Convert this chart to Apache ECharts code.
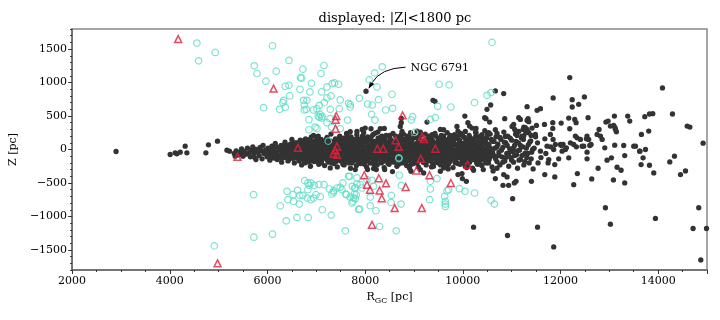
<!DOCTYPE html>
<html>
<head>
<meta charset="utf-8">
<script src="https://cdn.jsdelivr.net/npm/echarts@6.0.0/dist/echarts.min.js"></script>
<style>
  html, body { margin: 0; padding: 0; background: #fff; }
  #chart { width: 720px; height: 320px; }
</style>
</head>
<body>
<div id="chart"></div>
<script>
// tick labels
var xTicks = [2000, 4000, 6000, 8000, 10000, 12000, 14000];
var yTicks = [-1500, -1000, -500, 0, 500, 1000, 1500];

// open clusters, |Z| < 1800 pc  (R_GC, Z) in pc
// dense thin-disc band
var bandDots = [
  [5320,-60],[5360,-20],[5410,-80],[5450,-40],[5470,10],[5500,-100],
  [5520,-30],[5560,-70],[5590,20],[5620,-50],[5650,-110],[5680,-10],[5700,40],
  [5720,-60],[5740,-120],[5770,0],[5800,-40],[5830,-90],[5850,30],[5880,-20],[5890,-140],
  [5910,60],[5930,-60],[5960,-10],[5990,-110],[6010,20],[6030,-70],[6050,-160],[6070,-30],[6090,50],[6100,-120],
  [6120,0],[6140,-80],[6160,90],[6180,-40],[6200,-150],[6220,30],[6240,-100],[6260,-10],[6280,60],[6290,-190],[6300,-60],
  [6320,10],[6340,-120],[6360,110],[6380,-50],[6400,40],[6420,-170],[6440,-90],[6460,-10],[6470,80],[6490,-130],[6500,150],
  [6520,-40],[6530,30],[6550,-200],[6570,100],[6590,-110],[6600,0],[6620,-60],[6640,60],[6650,-150],[6670,140],[6690,-20],[6700,-230],
  [6710,80],[6730,-120],[6740,20],[6760,-70],[6780,160],[6790,-190],[6800,-10],[6820,110],[6840,-140],[6850,40],[6870,-60],[6880,-250],[6900,190],
  [6910,0],[6930,-100],[6940,70],[6960,-180],[6970,130],[6990,-40],[7000,30],[7020,-130],[7040,200],[7050,-220],[7060,-10],[7080,90],[7090,-80],[7100,150],
  [7110,-160],[7130,10],[7140,-60],[7160,120],[7170,-240],[7190,50],[7200,-120],[7220,180],[7230,-20],[7250,-190],[7260,80],[7280,-80],[7290,20],[7300,230],
  [7310,-140],[7330,110],[7340,-40],[7360,-210],[7370,60],[7390,160],[7400,-100],[7420,0],[7430,-260],[7450,130],[7460,-60],[7480,200],[7490,30],[7500,-170],
  [7510,90],[7530,-20],[7540,-120],[7560,170],[7570,-230],[7590,40],[7600,-80],[7620,240],[7630,-180],[7650,120],[7660,-10],[7680,-130],[7690,60],[7700,-280],
  [7710,190],[7730,-60],[7740,10],[7760,-170],[7770,130],[7790,-100],[7800,70],[7820,-240],[7830,220],[7850,-30],[7860,-150],[7880,100],[7890,20],[7900,-210],
  [7910,160],[7930,-90],[7940,50],[7960,-190],[7970,250],[7990,-20],[8000,110],[8020,-140],[8030,-260],[8050,190],[8060,10],[8080,-70],[8090,80],[8100,-200],
  [8110,140],[8130,-30],[8140,-120],[8160,220],[8170,40],[8190,-230],[8200,-80],[8220,120],[8230,-170],[8250,0],[8260,260],[8280,-110],[8290,70],[8300,-40],
  [8310,180],[8330,-200],[8340,20],[8360,-100],[8370,130],[8390,-270],[8400,60],[8420,-30],[8430,210],[8450,-160],[8460,100],[8480,-60],[8490,-220],[8500,30],
  [8510,170],[8530,-130],[8540,80],[8560,-20],[8570,240],[8590,-190],[8600,0],[8620,120],[8630,-90],[8650,-250],[8660,50],[8680,190],[8690,-50],[8700,-150],
  [8710,100],[8730,-10],[8740,220],[8760,-200],[8770,60],[8790,-80],[8800,150],[8820,-130],[8830,10],[8850,-240],[8860,200],[8880,-40],[8890,90],[8900,-170],
  [8910,30],[8930,250],[8940,-110],[8960,140],[8970,-20],[8990,-210],[9000,70],[9020,-60],[9030,180],[9050,-150],[9060,0],[9080,110],[9090,-260],[9100,-90],
  [9110,200],[9130,40],[9140,-130],[9160,-20],[9170,130],[9190,-190],[9200,70],[9220,-70],[9230,230],[9250,-230],[9260,10],[9280,160],[9290,-110],[9300,90],
  [9310,-40],[9330,-170],[9340,190],[9360,30],[9370,-90],[9390,120],[9400,-250],[9420,-10],[9430,240],[9450,-140],[9460,60],[9480,-60],[9490,170],[9500,-200],
  [9510,20],[9530,110],[9540,-110],[9560,210],[9570,-30],[9590,-190],[9600,70],[9620,-80],[9630,150],[9650,-240],[9660,0],[9680,250],[9690,-140],[9700,50],
  [9710,-60],[9730,180],[9740,-180],[9760,30],[9770,-100],[9790,120],[9800,-270],[9820,-20],[9830,220],[9850,-150],[9860,70],[9880,-50],[9890,160],[9900,-210],
  [9910,10],[9930,110],[9940,-120],[9960,240],[9970,-30],[9990,-200],[10000,60],[10020,-80],[10030,180],[10050,-250],[10060,0],[10080,130],[10090,-160],[10100,40],
  [10110,-60],[10130,210],[10140,-190],[10160,90],[10170,-110],[10190,20],[10200,-280],[10220,160],[10230,-30],[10250,-150],[10260,260],[10280,70],[10290,-90],[10300,-220],
  [10310,130],[10330,-10],[10340,-170],[10360,200],[10370,40],[10390,-240],[10400,-70],[10420,110],[10430,-130],[10450,280],[10460,0],[10480,-200],[10490,170],[10500,-50],
  [10520,60],[10540,-150],[10560,230],[10580,-20],[10600,-260],[10620,120],[10640,-90],[10660,20],[10680,190],[10700,-180],
  [10720,80],[10740,-40],[10760,-230],[10780,150],[10800,-110],[10820,30],[10840,260],[10860,-170],[10880,100],[10900,-60],
  [10920,200],[10940,-250],[10960,10],[10980,-120],[11000,140],[11020,-30],[11040,-190],[11060,60],[11080,230],[11100,-80],
  [11120,-280],[11140,100],[11160,-10],[11180,-150],[11200,170],[11230,40],[11250,-230],[11270,-60],[11290,250],
  [11310,-120],[11340,70],[11360,-200],[11390,130],[11410,-40],[11440,-290],[11460,20],[11490,190]
];

// second layer filling the core of the band
var coreDots = [
  [6510,-90],[6545,50],[6585,-20],[6625,-130],[6665,20],[6695,-80],
  [6715,-30],[6745,-160],[6775,60],[6805,-100],[6835,0],[6865,-180],[6895,90],
  [6915,-50],[6945,20],[6975,-110],[7005,100],[7035,-40],[7065,-150],[7095,40],
  [7115,-90],[7145,70],[7175,-20],[7205,-60],[7235,110],[7265,-130],[7295,-30],
  [7315,50],[7345,-90],[7375,-10],[7405,80],[7435,-150],[7465,20],[7495,-60],
  [7515,-50],[7545,30],[7575,-100],[7605,100],[7635,-40],[7665,-200],[7695,0],
  [7715,-120],[7745,80],[7775,-40],[7805,-110],[7835,40],[7865,-70],[7895,120],
  [7915,-40],[7945,-130],[7975,30],[8005,-60],[8035,140],[8065,-120],[8095,-20],
  [8115,60],[8145,-70],[8175,-160],[8205,20],[8235,-40],[8265,90],[8295,-130],
  [8315,-60],[8345,70],[8375,-20],[8405,-140],[8435,30],[8465,-90],[8495,120],
  [8515,-80],[8545,-180],[8575,40],[8605,-50],[8635,90],[8665,-120],[8695,10],
  [8715,-60],[8745,40],[8775,-150],[8805,-20],[8835,110],[8865,-90],[8895,0],
  [8915,-130],[8945,60],[8975,-70],[9005,-160],[9035,20],[9065,-40],[9095,100],
  [9115,-50],[9145,80],[9175,-100],[9205,0],[9235,-150],[9265,60],[9295,-30],
  [9315,120],[9345,-70],[9375,40],[9405,-120],[9435,-20],[9465,100],[9495,-90],
  [9515,-150],[9545,40],[9575,-60],[9605,-10],[9635,-120],[9665,90],[9695,-40],
  [9715,60],[9745,-90],[9775,10],[9805,-140],[9835,80],[9865,-20],[9895,-100],
  [9915,-50],[9945,30],[9975,-130],[10005,90],[10035,-30],[10065,-110],[10095,60],
  [10115,-20],[10145,-120],[10175,40],[10205,-60],[10235,100],[10265,-160],[10295,10],
  [10315,-80],[10345,60],[10375,-140],[10405,30],[10435,-40],[10465,-110],[10495,80]
];

// third layer, makes the densest part of the band solid
var coreDots2 = [
  [6010,-40],[6045,-100],[6080,10],[6115,-60],[6150,-130],[6185,40],
  [6210,-80],[6245,20],[6280,-130],[6315,-30],[6350,70],[6385,-110],
  [6410,0],[6440,-150],[6470,30],[6500,-60],[6530,100],[6560,-120],[6590,60],
  [6605,100],[6625,-10],[6645,-170],[6665,-60],[6685,70],[6705,-120],[6725,130],[6745,-30],[6765,-200],[6785,30],
  [6805,-150],[6825,50],[6845,-80],[6865,150],[6885,-20],[6905,-120],[6925,110],[6945,-170],[6965,-30],[6985,60],
  [7005,-170],[7025,60],[7045,-100],[7065,140],[7085,-10],[7105,-200],[7125,90],[7145,-130],[7165,10],[7185,-70],
  [7205,150],[7225,-160],[7245,30],[7265,-40],[7285,130],[7305,-100],[7325,-200],[7345,70],[7365,-130],[7385,0],
  [7405,-180],[7425,110],[7445,-60],[7465,170],[7485,-110],[7505,10],[7525,140],[7545,-220],[7565,60],[7585,-160],
  [7605,-10],[7625,170],[7645,-120],[7665,40],[7685,-60],[7705,110],[7725,-200],[7745,-20],[7765,150],[7785,-150],
  [7805,10],[7825,-80],[7845,160],[7865,-190],[7885,60],[7905,-110],[7925,20],[7945,200],[7965,-60],[7985,-220],
  [8005,150],[8025,-20],[8045,-170],[8065,80],[8085,-120],[8105,40],[8125,190],[8145,-200],[8165,-20],[8185,120],
  [8205,-130],[8225,20],[8245,-230],[8265,170],[8285,-50],[8305,70],[8325,-120],[8345,200],[8365,-180],[8385,-10],
  [8405,150],[8425,-90],[8445,60],[8465,-200],[8485,10],[8505,210],[8525,-40],[8545,110],[8565,-150],[8585,50],
  [8605,-100],[8625,200],[8645,-30],[8665,140],[8685,-220],[8705,20],[8725,-130],[8745,130],[8765,-60],[8785,230],
  [8805,60],[8825,-190],[8845,-30],[8865,130],[8885,-110],[8905,180],[8925,-40],[8945,-220],[8965,80],[8985,-140],
  [9005,200],[9025,-100],[9045,50],[9065,-200],[9085,160],[9105,-20],[9125,-150],[9145,220],[9165,-70],[9185,60],
  [9205,-190],[9225,130],[9245,-60],[9265,-170],[9285,40],[9305,200],[9325,-110],[9345,10],[9365,150],[9385,-210],
  [9405,70],[9425,-70],[9445,200],[9465,-190],[9485,20],[9505,130],[9525,-40],[9545,-230],[9565,80],[9585,-120],
  [9605,200],[9625,10],[9645,-180],[9665,140],[9685,-70],[9705,-220],[9725,40],[9745,210],[9765,-130],[9785,70],
  [9805,-40],[9825,160],[9845,-200],[9865,0],[9885,-120],[9905,200],[9925,-70],[9945,-220],[9965,90],[9985,-150],
  [10005,200],[10025,-10],[10045,-170],[10065,140],[10085,-60],[10105,-230],[10125,70],[10145,180],[10165,-40],[10185,-150],
  [10205,110],[10225,-100],[10245,40],[10265,200],[10285,-200],[10305,-20],[10325,150],[10345,-120],[10365,60],[10385,-230],
  [10405,170],[10425,-20],[10445,-160],[10465,100],[10485,-80],[10505,220],[10525,-200],[10545,30],[10565,-110],[10585,150],
  [10610,-40],[10640,120],[10670,-140],[10700,40],[10730,-90],[10760,180],[10790,-10],[10820,-190],[10850,110],[10880,-120],
  [10910,60],[10940,-60],[10970,170],[11000,-160],[11030,20],[11060,-90],[11090,120],[11120,-20],[11150,-160],[11180,60],
  [11210,-90],[11240,150],[11270,-180],[11300,20],[11330,-60],[11370,110],[11400,-140],[11430,0]
];

// fourth layer, centre of the band
var coreDots3 = [
  [6408,-20],[6433,60],[6458,-110],[6483,20],[6508,-50],[6533,-130],[6558,10],[6583,-80],
  [6608,-70],[6633,90],[6658,-120],[6683,-30],[6708,50],[6733,-90],[6758,100],[6783,-10],
  [6808,60],[6833,-120],[6858,-30],[6883,80],[6908,-80],[6933,10],[6958,-140],[6983,100],
  [7008,-60],[7033,120],[7058,-30],[7083,-120],[7108,30],[7133,-80],[7158,80],[7183,-10],
  [7208,-100],[7233,-10],[7258,120],[7283,-140],[7308,40],[7333,-50],[7358,90],[7383,-110],
  [7408,30],[7433,-90],[7458,110],[7483,-30],[7508,-130],[7533,60],[7558,-60],[7583,100],
  [7608,-120],[7633,40],[7658,-80],[7683,120],[7708,-20],[7733,-140],[7758,60],[7783,-60],
  [7808,100],[7833,-40],[7858,-130],[7883,20],[7908,-70],[7933,120],[7958,-150],[7983,40],
  [8008,-90],[8033,20],[8058,-150],[8083,120],[8108,-40],[8133,80],[8158,-110],[8183,-20],
  [8208,60],[8233,-80],[8258,-10],[8283,130],[8308,-150],[8333,20],[8358,-70],[8383,100],
  [8408,-30],[8433,-140],[8458,80],[8483,-70],[8508,40],[8533,-110],[8558,130],[8583,-20],
  [8608,60],[8633,-150],[8658,-50],[8683,100],[8708,-100],[8733,0],[8758,150],[8783,-120],
  [8808,-80],[8833,50],[8858,-150],[8883,100],[8908,-50],[8933,120],[8958,-120],[8983,10],
  [9008,-40],[9033,-130],[9058,90],[9083,-60],[9108,140],[9133,-10],[9158,-110],[9183,110],
  [9208,30],[9233,-80],[9258,150],[9283,-130],[9308,-30],[9333,80],[9358,-150],[9383,40],
  [9408,-110],[9433,60],[9458,-30],[9483,-150],[9508,90],[9533,-80],[9558,140],[9583,10],
  [9608,-90],[9633,80],[9658,-30],[9683,-140],[9708,120],[9733,-60],[9758,0],[9783,-120],
  [9808,110],[9833,-80],[9858,-160],[9883,60],[9908,-30],[9933,140],[9958,-110],[9983,30],
  [10008,-110],[10033,60],[10058,-40],[10083,-150],[10108,120],[10133,-70],[10158,20],[10183,150],
  [10208,-150],[10233,30],[10258,-60],[10283,110],[10308,-110],[10333,-20],[10358,130],[10383,-80],
  [10408,40],[10433,-100],[10458,140],[10483,-20],[10508,-140],[10533,80],[10558,-60],[10583,10]
];

// scattered clusters outside the band
var haloDots = [
  [2900,-30],[4008,-75],[4110,-50],[4145,-65],[4213,-40],[4315,50],[4350,-50],[4739,-50],[4792,70],
  [4977,125],[5170,-10],[5223,-25],[5340,-100],[5764,-150],
  [6944,210],[7013,180],[6753,125],[7627,220],[7832,270],[8002,320],[7695,265],[7940,300],
  [8120,310],[8310,310],[8392,315],[8208,245],[8720,345],[8755,270],[9062,275],[9130,260],
  [9370,220],[9608,295],[9880,345],[10052,270],[10190,320],[10395,220],[10666,295],[10871,195],
  [11008,345],[11145,270],[11418,320],[9900,275],[9950,225],[10530,250],[10701,240],
  [11111,210],[11213,200],[11350,250],[11486,225],
  [8018,870],[9390,735],[9430,720],[10837,835],[10666,875],[10570,665],[10495,600],[10448,475],
  [10042,500],[10858,460],[11145,475],[11336,460],[8740,465],[8740,400],[9267,410],[9540,300],
  [11316,640],[11590,610],[11521,585],[11850,770],[12190,1075],[12240,745],[12240,635],[12490,785],
  [12373,675],[12169,470],[12292,450],[12319,400],[12565,475],[13104,500],[13377,500],[13418,425],
  [13726,490],[13822,530],[13890,535],[14293,530],[14594,350],[14649,335],[14920,95],[14088,920],
  [11179,450],[11316,435],[11350,415],[10104,400],[10138,350],[10271,315],[10271,250],[10550,410],
  [10475,460],[11250,335],[11316,300],[11041,375],[11063,300],[11508,360],[11672,375],[11842,400],
  [11842,315],[12014,395],[12930,410],[12790,300],[13117,325],[13125,300],[13145,265],[13657,225],
  [13807,275],[12750,225],[12818,200],[12853,150],[13110,65],[13295,60],[13535,50],[13624,-25],
  [12543,200],[12577,150],[12626,75],[12305,200],[12340,175],[12271,75],[12443,50],[12326,40],
  [12190,310],[11998,75],[12053,75],[12033,-25],[12100,0],[11793,225],[11848,150],[11895,75],
  [11234,300],[11281,325],[11301,265],[11247,200],[11398,210],[12975,425],[13022,350],[13090,360],
  [13500,50],[13740,0],[12476,50],[12600,60],[12018,60],[12121,25],[12203,100],[12408,150],
  [12531,160],[11725,50],[11861,0],[11590,-25],[14334,-100],[12907,25],
  [11530,100],[11600,-120],[11680,160],[11700,-60],[11760,-150],[11800,40],[11540,-200],
  [7286,-275],[7798,-300],[8050,-300],[8173,-285],[8228,-300],[8400,-300],[8560,-330],[8910,-280],
  [9360,-260],[9700,-290],[10080,-270],[10220,-310],[10420,-300],[10620,-320],[10700,-280],
  [8938,-325],[9130,-300],[9198,-350],[9540,-325],[9608,-275],[9991,-435],[10073,-475],[9983,-360],
  [9901,-375],[10666,-435],[10823,-535],[10938,-535],[11055,-500],[11090,-475],[11405,-475],
  [10837,-375],[10906,-410],[11020,-735],[10220,-1160],[10915,-1285],[11530,-1160],
  [11678,-375],[11883,-410],[12271,-525],[12346,-360],[12640,-440],[12770,-280],[13084,-455],
  [13159,-265],[13241,-310],[13315,-500],[12954,-160],[13043,-125],[13315,-90],[12544,-140],
  [12544,-40],[12169,-125],[11963,-140],[11883,-225],[11746,-200],[13650,-225],[13822,-235],
  [13691,-125],[13623,-25],[13910,-350],[14238,-185],[14457,-375],[14560,-320],
  [12920,-870],[13022,-1115],[13944,-1030],[11861,-1455],[14831,-870],[14715,-1180],[14990,-1180],[14873,-1650]
];

// thick-disc / halo clusters (hollow circles)
var cyanPts = [
  [4555,1590],[4588,1325],[4930,1450],[6104,1550],[6440,1330],[5729,1250],[5784,1135],[6180,1170],
  [6726,1200],[5968,1020],[6364,945],[6440,960],[6677,1073],[6700,1065],[6665,900],[6900,990],
  [6870,860],[7095,1135],[7157,1255],[7108,860],[7218,935],[7327,985],[7374,995],[7456,975],
  [6454,800],[6330,735],[6317,700],[5920,625],[6248,600],[6364,630],[6739,735],[6808,735],
  [6753,665],[6794,600],[6753,590],[6944,590],[7013,610],[7060,660],[7163,700],[7218,770],
  [7300,800],[7490,740],[7661,690],[7695,670],[7695,635],[7880,765],[7080,525],[7120,495],
  [7060,480],[7040,500],[7110,470],[7286,600],[7470,610],[6850,445],[7218,400],[7280,460],
  [7640,440],[6850,295],[6978,335],[7013,315],[7313,335],[7490,310],[7245,125],
  [10598,1600],[8351,1235],[8193,1145],[8085,1040],[8242,935],[8050,680],[8146,665],[8275,745],
  [8550,825],[8420,590],[8563,615],[8132,525],[8200,440],[9515,975],[9720,965],[9485,645],
  [9755,635],[10240,700],[10496,810],[10578,850],[8972,490],[8945,440],[9335,450],[9437,475],
  [9013,255],[8690,-125],[8693,-135],
  [5715,-675],[4910,-1440],[5722,-1310],[6104,-1265],[6385,-1065],[6604,-1015],[6835,-1015],
  [7122,-900],[7306,-980],[7593,-1215],[6262,-840],[6399,-625],[6419,-750],[6522,-675],
  [6617,-610],[6535,-775],[6651,-815],[6658,-685],[6726,-685],[6760,-465],[6828,-500],
  [6856,-535],[6890,-500],[6958,-535],[7054,-525],[7157,-525],[6828,-600],[6815,-725],
  [6890,-750],[6944,-725],[6992,-675],[7081,-705],[7265,-590],[7354,-615],[7320,-665],
  [7354,-640],[7423,-575],[7490,-565],[7545,-500],[7661,-400],[7736,-550],[7784,-575],
  [7832,-515],[7607,-665],[7818,-675],[7764,-725],[7730,-800],[7887,-890],
  [8296,-1150],[8637,-1215],[8700,-385],[8740,-540],[8536,-685],[8530,-790],[8734,-815],
  [8221,-915],[8105,-840],[8105,-710],[7866,-895],[7798,-735],[7750,-775],[7613,-675],
  [7695,-710],[7777,-665],[7798,-575],[7682,-400],[7832,-425],[7900,-525],[7935,-575],
  [8038,-450],[8140,-460],[8173,-550],[7525,-600],
  [9335,-475],[9335,-590],[9321,-750],[9471,-435],[9628,-700],[9642,-775],[9642,-815],
  [9642,-850],[9676,-615],[9710,-600],[9929,-585],[10045,-625],[10240,-650],[10578,-760],[10646,-815]
];

// hollow triangles
var redPts = [
  [4172,1650],[6125,910],[7409,500],[7395,445],[7395,310],[6624,25],[7423,45],[7388,-10],
  [7354,-60],[7423,-80],[5387,-110],[4978,-1700],
  [8767,510],[8250,12],[8370,12],[8687,40],[8625,140],[9164,192],[9205,155],[9437,12],
  [9140,-140],[10100,-228],[9050,-312],[9318,-383],[9755,-500],[7982,-385],[8280,-430],
  [8426,-505],[8038,-525],[8100,-600],[8296,-612],[8340,-728],[8604,-875],[9160,-875],
  [8830,-560],[8140,-1125]
];

// label for one cluster
var noteName = 'NGC 6791';
var notePoint = [8018, 870];
var noteText = [8930, 1215];

var chart = echarts.init(document.getElementById('chart'), null, { renderer: 'canvas' });
var serif = '"DejaVu Serif", "Liberation Serif", serif';
var axisCol = '#666';

var option = {
  animation: false,
  backgroundColor: '#fff',
  title: {
    text: 'displayed: |Z|<1800 pc',
    left: 390, top: 7, textAlign: 'center',
    textStyle: { fontFamily: serif, fontSize: 13, fontWeight: 'normal', color: '#000' }
  },
  grid: {
    left: 72, right: 13, top: 29, bottom: 50,
    show: true, borderColor: '#888', borderWidth: 1.5, containLabel: false
  },
  xAxis: [{
    type: 'value', min: 2000, max: 15000, interval: 2000,
    name: '{r|R}{s|GC}{r| [pc]}', nameLocation: 'middle', nameGap: 20,
    nameTextStyle: {
      rich: {
        r: { fontFamily: serif, fontSize: 11, color: '#000' },
        s: { fontFamily: serif, fontSize: 8, color: '#000', padding: [7, 0, 0, 0] }
      }
    },
    axisLine: { onZero: false, lineStyle: { color: axisCol, width: 1.5 } },
    axisTick: { length: 4, lineStyle: { color: '#333' } },
    minorTick: { show: true, splitNumber: 4, length: 2, lineStyle: { color: '#333' } },
    axisLabel: {
      customValues: xTicks, fontFamily: serif, fontSize: 11, color: '#000', margin: 6,
      formatter: function (v) { return String(v); }
    },
    splitLine: { show: false }
  }],
  yAxis: [{
    type: 'value', min: -1800, max: 1800,
    name: 'Z [pc]', nameLocation: 'middle', nameGap: 48, nameRotate: 90,
    nameTextStyle: { fontFamily: serif, fontSize: 11, color: '#000' },
    axisLine: { onZero: false, lineStyle: { color: axisCol, width: 1.5 } },
    axisTick: { length: 4, customValues: yTicks, lineStyle: { color: '#333' } },
    axisLabel: {
      customValues: yTicks, fontFamily: serif, fontSize: 11, color: '#000', margin: 5,
      formatter: function (v) { return String(v).replace('-', '\u2212'); }
    },
    splitLine: { show: false }
  }, {
    // minor ticks every 100 pc
    type: 'value', min: -1800, max: 1800, interval: 100, position: 'left', offset: 0,
    axisLine: { show: false },
    axisTick: { length: 2, lineStyle: { color: '#333' } },
    axisLabel: { show: false },
    splitLine: { show: false }
  }],
  series: [{
    type: 'scatter', data: bandDots.concat(coreDots, coreDots2, coreDots3, haloDots),
    symbol: 'circle', symbolSize: 5.3, silent: true, large: false,
    itemStyle: { color: '#333333', opacity: 1 }
  }, {
    type: 'scatter', data: cyanPts,
    symbol: 'circle', symbolSize: 6.5, silent: true,
    itemStyle: { color: 'rgba(0,0,0,0)', borderColor: '#5cdcc6', borderWidth: 1.2 }
  }, {
    type: 'scatter', data: redPts,
    symbol: 'triangle', symbolSize: 7, silent: true,
    itemStyle: { color: 'rgba(0,0,0,0)', borderColor: '#e0213f', borderWidth: 1.5 }
  }]
};
chart.setOption(option);

// annotation with curved arrow
var p = chart.convertToPixel({ xAxisIndex: 0, yAxisIndex: 0 }, notePoint);
var t = chart.convertToPixel({ xAxisIndex: 0, yAxisIndex: 0 }, noteText);
var tip = [p[0] + 2.5, p[1] - 2.5];
var start = [t[0] - 5, t[1] - 1];
var cp = [tip[0] + 12, start[1] + 1];
var dx = tip[0] - cp[0], dy = tip[1] - cp[1];
var len = Math.sqrt(dx * dx + dy * dy);
var ux = dx / len, uy = dy / len;
var hl = 7, hw = 2.6;
var base = [tip[0] - ux * hl, tip[1] - uy * hl];
chart.setOption({
  graphic: [{
    type: 'text', x: t[0], y: t[1],
    style: { text: noteName, font: '11px ' + serif, fill: '#000', verticalAlign: 'middle', align: 'left' }
  }, {
    type: 'bezierCurve',
    shape: { x1: start[0], y1: start[1], x2: base[0], y2: base[1], cpx1: cp[0], cpy1: cp[1] },
    style: { stroke: '#000', lineWidth: 1, fill: null }
  }, {
    type: 'polygon',
    shape: { points: [tip, [base[0] - uy * hw, base[1] + ux * hw], [base[0] + uy * hw, base[1] - ux * hw]] },
    style: { fill: '#000' }
  }]
});
</script>
</body>
</html>
